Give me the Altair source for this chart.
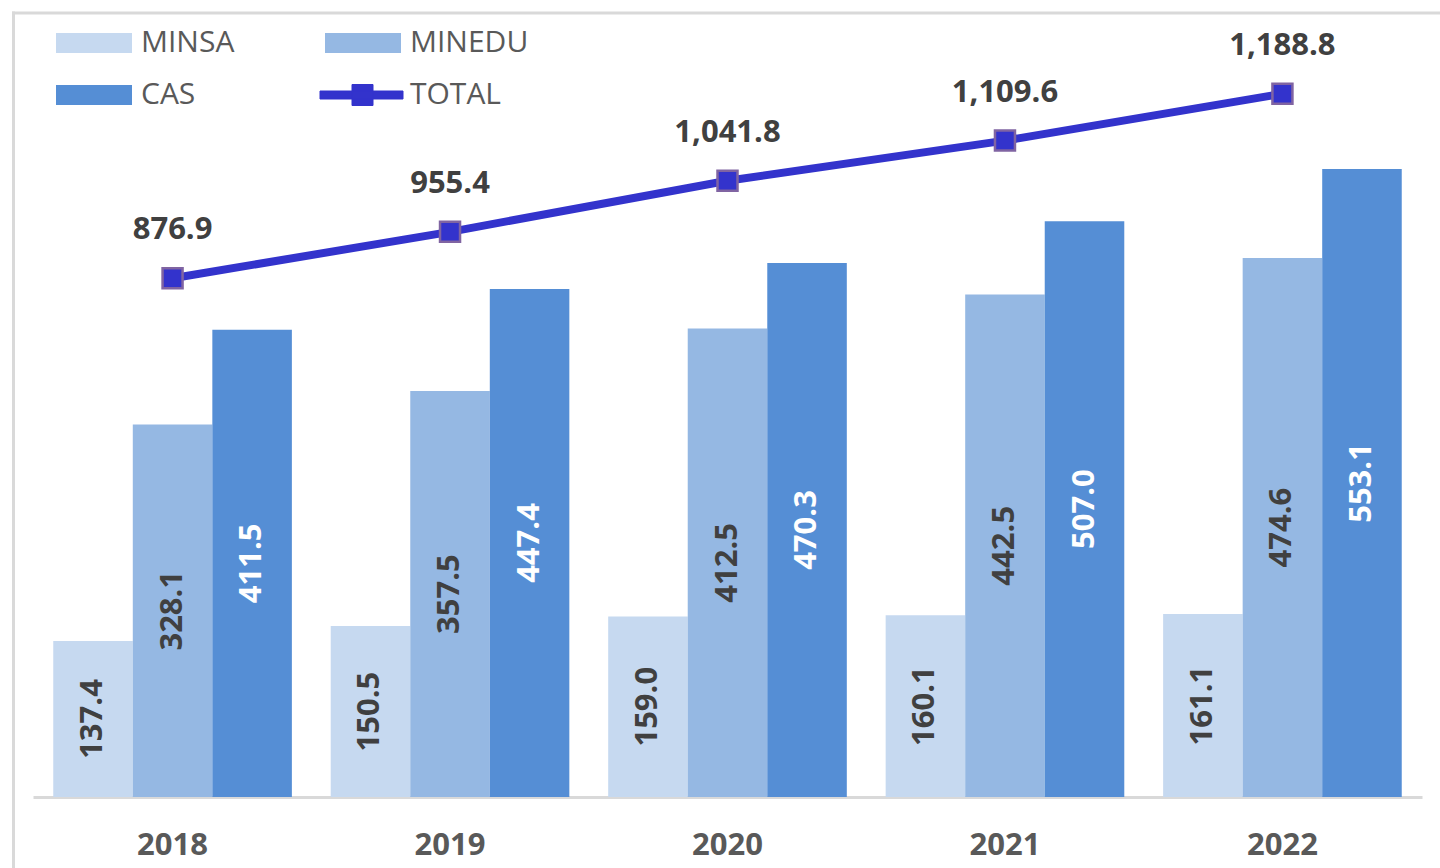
import altair as alt
import pandas as pd

years = ["2018", "2019", "2020", "2021", "2022"]
series = ["MINSA", "MINEDU", "CAS"]
minsa = [137.4, 150.5, 159.0, 160.1, 161.1]
minedu = [328.1, 357.5, 412.5, 442.5, 474.6]
cas = [411.5, 447.4, 470.3, 507.0, 553.1]
total = [876.9, 955.4, 1041.8, 1109.6, 1188.8]

colors = ["#C6D9F0", "#95B8E3", "#558ED5", "#3333CC"]
legend_domain = series + ["TOTAL"]

rows = []
for i, y in enumerate(years):
    for s, vals in zip(series, [minsa, minedu, cas]):
        rows.append({"year": y, "series": s, "value": vals[i]})
bars_df = pd.DataFrame(rows)
line_df = pd.DataFrame({"year": years, "total": total})

FONT = "Open Sans"
RECT = "M-1,-1H6.6V1H-1Z"
LINEP = "M-1.5,-0.4H6.8V0.4H-1.5Z M1.7,-1.05H3.8V1.05H1.7Z"

xscale = alt.Scale(domain=years, paddingInner=0.14, paddingOuter=0.073)
y1 = alt.Scale(domain=[0, 691.3], nice=False, zero=True)
y2 = alt.Scale(domain=[0, 1327], nice=False, zero=True)

base_bar = alt.Chart(bars_df).encode(
    x=alt.X("year:N", scale=xscale, title=None,
            axis=alt.Axis(domainColor="#D9D9D9", domainWidth=3, ticks=False,
                          labelFontSize=31, labelFontWeight="bold", labelColor="#595959",
                          labelFont=FONT, labelAngle=0, labelBaseline="middle",
                          labelPadding=48, grid=False)),
    xOffset=alt.XOffset("series:N", sort=series,
                        scale=alt.Scale(domain=series, paddingInner=0, paddingOuter=0)),
)

bars = base_bar.mark_bar().encode(
    y=alt.Y("value:Q", scale=y1, axis=None),
    color=alt.Color("series:N",
                    scale=alt.Scale(domain=legend_domain, range=colors),
                    legend=alt.Legend(
                        title=None, orient="none", legendX=18, legendY=16,
                        columns=2, direction="horizontal", gridAlign="all",
                        symbolType=alt.ExprRef(expr=f"datum.value === 'TOTAL' ? '{LINEP}' : '{RECT}'"),
                        symbolSize=400,
                        symbolStrokeColor=alt.ExprRef(expr="datum.value === 'TOTAL' ? '#3333CC' : 'transparent'"),
                        symbolStrokeWidth=1,
                        labelOffset=60, labelFontSize=30, labelColor="#595959",
                        labelFont=FONT, columnPadding=58, rowPadding=22,
                    )),
)

bar_labels = base_bar.transform_calculate(
    mid="datum.value / 2"
).mark_text(angle=270, font=FONT, fontSize=31, fontWeight="bold", baseline="middle",
            align="center").encode(
    y=alt.Y("mid:Q", scale=y1, axis=None),
    text=alt.Text("value:Q", format=",.1f"),
    color=alt.condition(alt.datum.series == "CAS", alt.value("white"), alt.value("#404040")),
)

base_line = alt.Chart(line_df).encode(
    x=alt.X("year:N", scale=xscale, title=None),
    y=alt.Y("total:Q", scale=y2, axis=None),
)
line = base_line.mark_line(color="#3333CC", strokeWidth=8, strokeCap="round")
pts = base_line.mark_point(shape="square", size=400, filled=True, fill="#3333CC",
                           stroke="#8064A2", strokeWidth=2.5, opacity=1)
line_labels = base_line.mark_text(dy=-48, font=FONT, fontSize=31, fontWeight="bold",
                                  color="#404040", baseline="middle").encode(
    text=alt.Text("total:Q", format=",.1f"))

border_src = alt.Data(values=[{"k": 1}])
border_top = alt.Chart(border_src).mark_rule(color="#D9D9D9", strokeWidth=3).encode(
    x=alt.value(-21), x2=alt.value(1420), y=alt.value(1))
border_left = alt.Chart(border_src).mark_rule(color="#D9D9D9", strokeWidth=3).encode(
    x=alt.value(-19.5), y=alt.value(-0.5), y2=alt.value(870))

bar_layer = alt.layer(bars, bar_labels)
line_layer = alt.layer(line, pts, line_labels)

chart = alt.layer(border_top, border_left, bar_layer, line_layer).resolve_scale(
    y="independent"
).properties(
    width=1389, height=785,
    padding={"left": 33, "top": 12, "right": 18, "bottom": 71},
    autosize=alt.AutoSizeParams(type="none"),
    background="white",
).configure_view(stroke=None)

chart.save("out.html", embed_options={"renderer": "svg", "actions": False})
